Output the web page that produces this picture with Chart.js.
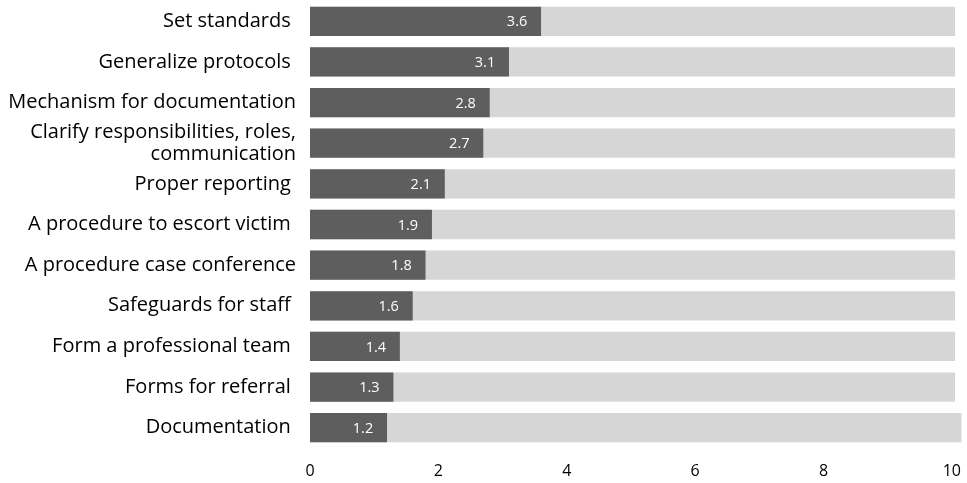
<!DOCTYPE html>
<html>
<head>
<meta charset="utf-8">
<script src="https://cdn.jsdelivr.net/npm/chart.js@4"></script>
<style>
    html, body { margin: 0; padding: 0; background: #ffffff; }
    #wrap { width: 967px; height: 483px; }
</style>
</head>
<body>
<div id="wrap"><canvas id="myChart"></canvas></div>
<script>
// Categories, top to bottom
const labels = [
    "Set standards ",
    "Generalize protocols ",
    "Mechanism for documentation",
    ["Clarify responsibilities, roles,", "communication"],
    "Proper reporting ",
    "A procedure to escort victim ",
    "A procedure case conference",
    "Safeguards for staff ",
    "Form a professional team ",
    "Forms for referral ",
    "Documentation "
]
// Scores
const scores = [3.6, 3.1, 2.8, 2.7, 2.1, 1.9, 1.8, 1.6, 1.4, 1.3, 1.2]
// Full-scale track behind each bar
const track = [10.05, 10.05, 10.05, 10.05, 10.05, 10.05, 10.05, 10.05, 10.05, 10.05, 10.15]
const xTicks = [0, 2, 4, 6, 8, 10]

const fontFamily = "'Open Sans', 'Noto Sans', sans-serif"

// white value text near the end of each dark bar
const valueLabels = {
    id: 'valueLabels',
    afterDatasetsDraw(chart) {
        const ctx = chart.ctx
        const meta = chart.getDatasetMeta(0)
        ctx.save()
        ctx.fillStyle = '#ffffff'
        ctx.font = "14.5px " + fontFamily
        ctx.textAlign = 'center'
        ctx.textBaseline = 'middle'
        meta.data.forEach((bar, i) => {
            ctx.fillText(scores[i].toFixed(1), bar.x - 24, bar.y + 1)
        })
        ctx.restore()
    }
}

const chart1 = document.getElementById('myChart')
new Chart(chart1, {
    type: 'bar',
    data: {
        labels: labels,
        datasets: [{
            label: 'Score',
            data: scores,
            backgroundColor: '#5e5e5e',
            grouped: false,
            order: 0,
            barPercentage: 0.72,
            categoryPercentage: 1
        }, {
            label: 'Scale',
            data: track,
            backgroundColor: '#d6d6d6',
            grouped: false,
            order: 1,
            clip: false,
            barPercentage: 0.72,
            categoryPercentage: 1
        }]
    },
    options: {
        indexAxis: 'y',
        responsive: true,
        maintainAspectRatio: false,
        animation: false,
        layout: {
            padding: { top: 1, right: 8, left: 0, bottom: 0 }
        },
        scales: {
            x: {
                min: 0,
                max: 10,
                afterBuildTicks: (scale) => {
                    scale.ticks = xTicks.map(v => ({ value: v }))
                },
                afterFit: (scale) => { scale.height = 35 },
                grid: { display: false },
                border: { display: false },
                ticks: {
                    color: '#000000',
                    padding: 6,
                    maxRotation: 0,
                    font: { family: fontFamily, size: 16 }
                }
            },
            y: {
                afterFit: (scale) => {
                    scale.width = 310
                    scale.paddingTop = 0
                    scale.paddingBottom = 0
                },
                grid: { display: false },
                border: { display: false },
                ticks: {
                    autoSkip: false,
                    color: '#000000',
                    padding: 6,
                    font: { family: fontFamily, size: 20, lineHeight: 1.1 }
                }
            }
        },
        plugins: {
            legend: { display: false },
            tooltip: { enabled: false }
        }
    },
    plugins: [valueLabels]
})
</script>
</body>
</html>
